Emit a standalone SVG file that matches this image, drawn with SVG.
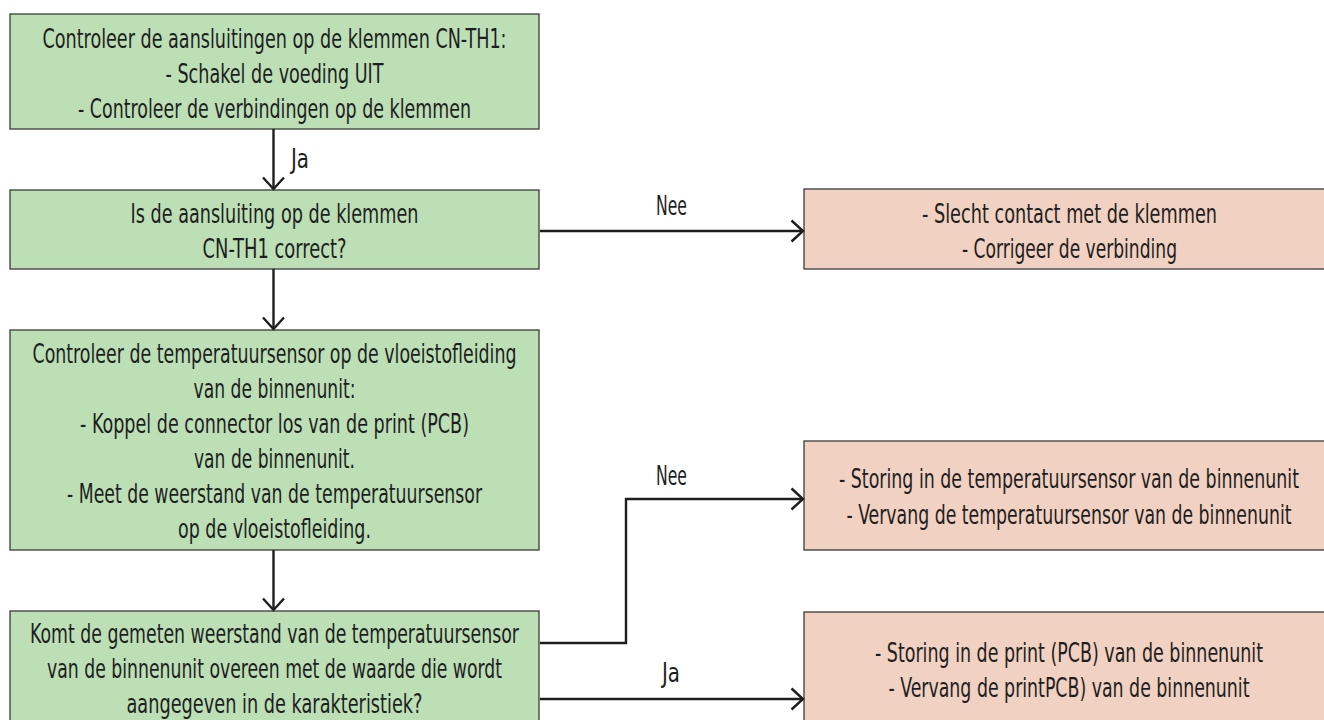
<svg xmlns="http://www.w3.org/2000/svg" width="1324" height="720" viewBox="0 0 1324 720">
<style>
.g{fill:#bddfb6;stroke:#3a3a3a;stroke-width:1.3}
.p{fill:#f1d1c1;stroke:#3a3a3a;stroke-width:1.3}
text{font-family:"Liberation Sans Narrow","DejaVu Sans Condensed","Liberation Sans",sans-serif;font-size:27px;fill:#1e1e1e;text-anchor:middle}
.c{fill:none;stroke:#1e1e1e;stroke-width:2.4}
</style>
<defs>
<marker id="ah" markerUnits="userSpaceOnUse" markerWidth="16" markerHeight="24" viewBox="0 0 16 24" refX="13" refY="12" orient="auto">
<path d="M1.5,1.5 L13,12 L1.5,22.5" fill="none" stroke="#1e1e1e" stroke-width="2.4"/>
</marker>
</defs>
<g id="n1">
<rect class="g" x="10" y="14" width="529" height="115"/>
<text x="274.5" y="48" textLength="464" lengthAdjust="spacingAndGlyphs">Controleer de aansluitingen op de klemmen CN-TH1:</text>
<text x="274.5" y="83" textLength="218" lengthAdjust="spacingAndGlyphs">- Schakel de voeding UIT</text>
<text x="274.5" y="118" textLength="393" lengthAdjust="spacingAndGlyphs">- Controleer de verbindingen op de klemmen</text>
</g>
<g id="n2">
<rect class="g" x="10" y="190" width="529" height="79"/>
<text x="274.5" y="223" textLength="288" lengthAdjust="spacingAndGlyphs">Is de aansluiting op de klemmen</text>
<text x="274.5" y="258" textLength="144" lengthAdjust="spacingAndGlyphs">CN-TH1 correct?</text>
</g>
<g id="n3">
<rect class="g" x="10" y="330" width="529" height="220"/>
<text x="274.5" y="363" textLength="484" lengthAdjust="spacingAndGlyphs">Controleer de temperatuursensor op de vloeistofleiding</text>
<text x="274.5" y="398" textLength="162" lengthAdjust="spacingAndGlyphs">van de binnenunit:</text>
<text x="274.5" y="433" textLength="389" lengthAdjust="spacingAndGlyphs">- Koppel de connector los van de print (PCB)</text>
<text x="274.5" y="468" textLength="161" lengthAdjust="spacingAndGlyphs">van de binnenunit.</text>
<text x="274.5" y="503" textLength="415" lengthAdjust="spacingAndGlyphs">- Meet de weerstand van de temperatuursensor</text>
<text x="274.5" y="538" textLength="193" lengthAdjust="spacingAndGlyphs">op de vloeistofleiding.</text>
</g>
<g id="n4">
<rect class="g" x="10" y="611" width="529" height="125"/>
<text x="274.5" y="643" textLength="489" lengthAdjust="spacingAndGlyphs">Komt de gemeten weerstand van de temperatuursensor</text>
<text x="274.5" y="678" textLength="455" lengthAdjust="spacingAndGlyphs">van de binnenunit overeen met de waarde die wordt</text>
<text x="274.5" y="713" textLength="296" lengthAdjust="spacingAndGlyphs">aangegeven in de karakteristiek?</text>
</g>
<g id="r1">
<rect class="p" x="804" y="189" width="521" height="80"/>
<text x="1069.5" y="223" textLength="295" lengthAdjust="spacingAndGlyphs">- Slecht contact met de klemmen</text>
<text x="1069.5" y="258" textLength="215" lengthAdjust="spacingAndGlyphs">- Corrigeer de verbinding</text>
</g>
<g id="r2">
<rect class="p" x="804" y="441" width="521" height="109"/>
<text x="1069" y="488" textLength="460" lengthAdjust="spacingAndGlyphs">- Storing in de temperatuursensor van de binnenunit</text>
<text x="1069" y="524" textLength="445" lengthAdjust="spacingAndGlyphs">- Vervang de temperatuursensor van de binnenunit</text>
</g>
<g id="r3">
<rect class="p" x="804" y="612" width="521" height="125"/>
<text x="1069" y="662" textLength="388" lengthAdjust="spacingAndGlyphs">- Storing in de print (PCB) van de binnenunit</text>
<text x="1069" y="697" textLength="361" lengthAdjust="spacingAndGlyphs">- Vervang de printPCB) van de binnenunit</text>
</g>
<g id="connectors">
<path class="c" d="M273.5,129 L273.5,189" marker-end="url(#ah)"/>
<path class="c" d="M273.5,269 L273.5,329" marker-end="url(#ah)"/>
<path class="c" d="M273.5,550 L273.5,610" marker-end="url(#ah)"/>
<path class="c" d="M540,231 L803,231" marker-end="url(#ah)"/>
<path class="c" d="M540,643 L626,643 L626,499 L803,499" marker-end="url(#ah)"/>
<path class="c" d="M540,699 L803,699" marker-end="url(#ah)"/>
<text x="300" y="168" textLength="18" lengthAdjust="spacingAndGlyphs">Ja</text>
<text x="671.5" y="215" textLength="31" lengthAdjust="spacingAndGlyphs">Nee</text>
<text x="671.5" y="485" textLength="31" lengthAdjust="spacingAndGlyphs">Nee</text>
<text x="671" y="682" textLength="18" lengthAdjust="spacingAndGlyphs">Ja</text>
</g>
</svg>
